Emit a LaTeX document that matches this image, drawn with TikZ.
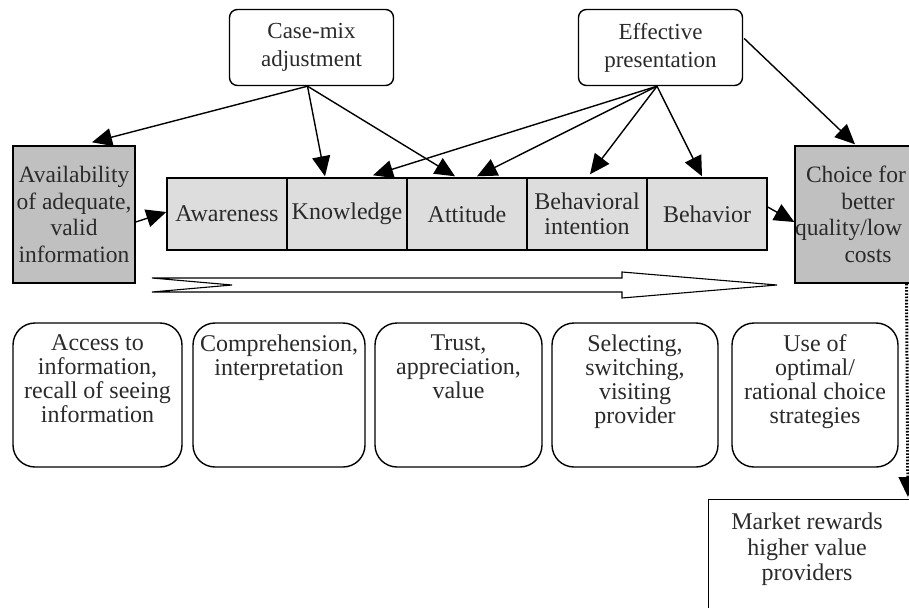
\documentclass[tikz,border=0pt]{standalone}
\usepackage{fontspec}
\setmainfont{Liberation Serif}
\usetikzlibrary{arrows.meta,calc}
\definecolor{darkbox}{HTML}{C0C0C0}
\definecolor{lightbox}{HTML}{DDDDDD}
\definecolor{ink}{HTML}{2A2A2A}
\begin{document}
\begin{tikzpicture}[x=1pt,y=-1pt,
  every node/.style={text=ink},
  topbox/.style={draw, line width=1.4pt, rounded corners=8pt, minimum width=164pt,
    minimum height=76pt, inner sep=0pt, align=center, font=\fontsize{23}{28}\selectfont},
  graybox/.style={draw, line width=1.4pt, fill=darkbox, minimum width=122pt,
    minimum height=137pt, inner sep=0pt, align=center, font=\fontsize{23.5}{26.5}\selectfont},
  cell/.style={draw, line width=1.4pt, fill=lightbox, minimum width=120pt,
    minimum height=72pt, inner sep=0pt, align=center, font=\fontsize{24}{25}\selectfont},
  roundbox/.style={draw, line width=1.4pt, rounded corners=22pt, minimum height=144pt, inner sep=0pt},
  roundtext/.style={anchor=north, inner sep=0pt, align=center, font=\fontsize{24}{24}\selectfont},
  plainbox/.style={draw, line width=1.4pt, inner sep=0pt},
  conn/.style={line width=1.4pt, -{Triangle[length=20pt,width=18pt]}},
  dotconn/.style={line width=3pt, dash pattern=on 1.6pt off 1.6pt, -{Triangle[length=20pt,width=18pt]}}
]
\useasboundingbox (0,0) rectangle (909,607);
\clip (0,0) rectangle (909,607);

% top boxes
\node[topbox] (cm) at (311.5,47.5) {Case-mix\\adjustment};
\node[topbox] (ep) at (660.5,47.5) {Effective\\presentation};

% side boxes
\node[graybox] (avail) at (74,214.5) {Availability\\of adequate,\\valid\\information};
\node[graybox, minimum width=142pt] (choice) at (868,214.5)
  {\makebox[124pt][l]{Choice for}\\better\\\makebox[146pt][l]{quality/low}\\costs};

% strip
\node[cell] (aware) at (227,214) {Awareness};
\node[cell] (know) at (347,214) {Knowledge};
\node[cell] (att) at (467,214) {Attitude};
\node[cell] (bi) at (587,214) {Behavioral\\intention};
\node[cell] (beh) at (707,214) {Behavior};

% hollow process arrow
\draw[line width=1.1pt, fill=white] (152,278) -- (622,278) -- (622,272) -- (777,285)
  -- (622,298) -- (622,292) -- (152,292) -- (232,285) -- cycle;

% bottom rounded boxes
\node[roundbox, minimum width=169pt] (b1) at (97.5,395) {};
\node[roundbox, minimum width=172pt] (b2) at (279,395) {};
\node[roundbox, minimum width=167pt] (b3) at (458.5,395) {};
\node[roundbox, minimum width=166pt] (b4) at (635,395) {};
\node[roundbox, minimum width=166pt] (b5) at (815,395) {};
\node[roundtext] (b1t) at ($(b1.north)+(0,12)$) {Access to\\information,\\recall of seeing\\information};
\node[roundtext] (b2t) at ($(b2.north)+(0,12)$) {Comprehension,\\interpretation};
\node[roundtext] (b3t) at ($(b3.north)+(0,12)$) {Trust,\\appreciation,\\value};
\node[roundtext] (b4t) at ($(b4.north)+(0,12)$) {Selecting,\\switching,\\visiting\\provider};
\node[roundtext] (b5t) at ($(b5.north)+(0,12)$) {Use of\\optimal/\\rational choice\\strategies};

% market box
\node[plainbox, minimum width=204pt, minimum height=140pt, anchor=north west] (market) at (708,499) {};
\node[roundtext, font=\fontsize{24}{25.5}\selectfont] (markett) at (807,513) {Market rewards\\higher value\\providers};

% connectors
\draw[conn] ($(cm.south)+(-4,0)$) -- ($(avail.north)+(18,-3)$);
\draw[conn] ($(cm.south)+(-4,0)$) -- ($(know.north)+(-22,-1)$);
\draw[conn] ($(cm.south)+(-4,0)$) -- ($(att.north)+(-12,-1)$);
\draw[conn] ($(ep.south)+(-3.5,0)$) -- ($(know.north)+(26,-2)$);
\draw[conn] ($(ep.south)+(-3.5,0)$) -- ($(att.north)+(10,-1)$);
\draw[conn] ($(ep.south)+(-3.5,0)$) -- ($(bi.north)+(3,-3)$);
\draw[conn] ($(ep.south)+(-3.5,0)$) -- ($(beh.north)+(-5,-1)$);
\draw[conn] ($(ep.east)+(1,-9)$) -- ($(choice.north)+(-13,-1)$);
\draw[conn] ($(avail.east)+(0,7.5)$) -- ($(aware.west)+(0,-2)$);
\draw[conn] ($(beh.east)+(0,-7)$) -- ($(choice.west)+(0,7.5)$);
\draw[dotconn] ($(choice.south)+(38.5,0)$) -- ($(market.north east)+(-5.5,-2)$);
\end{tikzpicture}
\end{document}
